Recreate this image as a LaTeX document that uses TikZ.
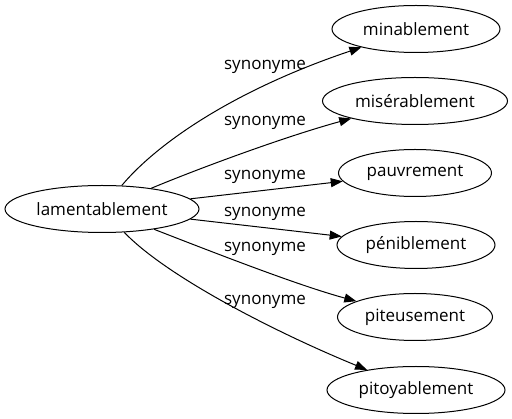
\documentclass[tikz,border=0pt]{standalone}
\usepackage{fontspec}
\setmainfont{Open Sans}
\usetikzlibrary{arrows.meta, shapes.geometric}

\begin{document}
\begin{tikzpicture}[
      x=1pt, y=-1pt,
      font=\fontsize{17pt}{20pt}\selectfont,
      word/.style={ellipse, draw, line width=1pt, inner sep=0pt, minimum height=47pt},
      syn/.style={inner sep=0pt},
      link/.style={-{Triangle[length=12pt, width=9pt]}, line width=1pt}
    ]
  \useasboundingbox (0,0) rectangle (512,419);
  \node[word, minimum width=194pt] (lament) at (102,209) {lamentablement};
  \node[word, minimum width=168pt] (minab) at (416,29) {minablement};
  \node[word, minimum width=185pt] (miser) at (415,101) {misérablement};
  \node[word, minimum width=153pt] (pauvr) at (415,173) {pauvrement};
  \node[word, minimum width=158pt] (penib) at (416,245) {péniblement};
  \node[word, minimum width=155pt] (piteu) at (415,317) {piteusement};
  \node[word, minimum width=178pt] (pitoy) at (416,390) {pitoyablement};

  \draw[link] (lament) .. controls (160,140) and (240,88) .. (minab);
  \draw[link] (lament) .. controls (190,172) and (280,138) .. (miser);
  \draw[link] (lament) -- (pauvr);
  \draw[link] (lament) -- (penib);
  \draw[link] (lament) .. controls (220,255) and (300,286) .. (piteu);
  \draw[link] (lament) .. controls (165,275) and (270,330) .. (pitoy);

  \node[syn] (s1) at (265,66.5) {synonyme};
  \node[syn] (s2) at (265,122.5) {synonyme};
  \node[syn] (s3) at (265,176.5) {synonyme};
  \node[syn] (s4) at (265,213.5) {synonyme};
  \node[syn] (s5) at (265,248.5) {synonyme};
  \node[syn] (s6) at (265,301.5) {synonyme};
\end{tikzpicture}
\end{document}
